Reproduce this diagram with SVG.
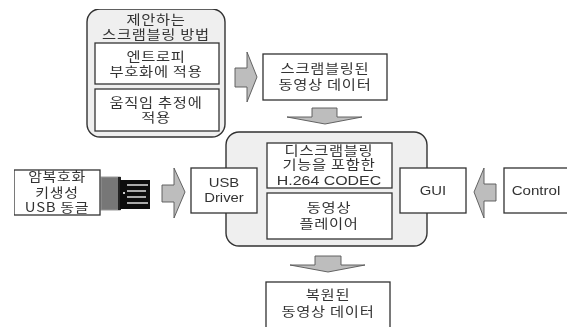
<svg xmlns="http://www.w3.org/2000/svg" width="567" height="327" viewBox="0 0 567 327">
<style>
.outer{fill:#efefef;stroke:#333;stroke-width:1.4}
.box{fill:#fff;stroke:#333;stroke-width:1.3}
.arrow{fill:#bdbdbd;stroke:#555;stroke-width:.9}
text{font-family:"Noto Sans CJK KR","Liberation Sans",sans-serif;font-size:13px;fill:#333;text-anchor:middle;letter-spacing:.6px}
.lat{font-family:"Liberation Sans",sans-serif;font-size:13.5px;letter-spacing:0}
</style>
<defs><filter id="soft" x="0" y="0" width="1" height="1"><feGaussianBlur stdDeviation="0.35"/></filter></defs>
<rect width="567" height="327" fill="#fff"/>
<g filter="url(#soft)">
<g id="proposed-method">
<rect class="outer" x="87" y="9" width="138" height="128" rx="13"/>
<text transform="translate(156 0) scale(1.18 1)"><tspan x="0" y="24">제안하는</tspan><tspan x="0" y="39">스크램블링 방법</tspan></text>
</g>
<g id="entropy"><rect class="box" x="95" y="43" width="124" height="41"/>
<text transform="translate(156 0) scale(1.18 1)"><tspan x="0" y="61">엔트로피</tspan><tspan x="0" y="76">부호화에 적용</tspan></text></g>
<g id="motion"><rect class="box" x="95" y="89" width="124" height="42"/>
<text transform="translate(156 0) scale(1.18 1)"><tspan x="0" y="107">움직임 추정에</tspan><tspan x="0" y="122">적용</tspan></text></g>
<g id="scrambled-video"><rect class="box" x="263" y="54" width="124" height="46"/>
<text transform="translate(325 0) scale(1.18 1)"><tspan x="0" y="73">스크램블링된</tspan><tspan x="0" y="89">동영상 데이터</tspan></text></g>
<g id="player-system"><rect class="outer" x="226" y="132" width="201" height="114" rx="13"/></g>
<g id="codec"><rect class="box" x="267" y="143" width="125" height="45"/>
<text transform="translate(329 0) scale(1.18 1)"><tspan x="0" y="155">디스크램블링</tspan><tspan x="0" y="169">기능을 포함한</tspan><tspan x="0" y="185" class="lat">H.264 CODEC</tspan></text></g>
<g id="player"><rect class="box" x="267" y="193" width="125" height="46"/>
<text transform="translate(329 0) scale(1.18 1)"><tspan x="0" y="212">동영상</tspan><tspan x="0" y="228">플레이어</tspan></text></g>
<g id="usb-driver"><rect class="box" x="191" y="168" width="66" height="45"/>
<text class="lat" transform="translate(224 0) scale(1.1 1)"><tspan x="0" y="187">USB</tspan><tspan x="0" y="202">Driver</tspan></text></g>
<g id="gui"><rect class="box" x="400" y="168" width="66" height="45"/>
<text x="0" y="195" class="lat" transform="translate(433 0) scale(1.1 1)">GUI</text></g>
<g id="control"><rect class="box" x="504" y="168" width="66" height="45"/>
<text x="0" y="195" class="lat" transform="translate(536 0) scale(1.12 1)">Control</text></g>
<g id="usb-dongle">
<rect x="101" y="177" width="19" height="33" fill="#777" stroke="#999" stroke-width="1"/>
<rect x="118" y="177" width="3" height="33" fill="#222"/>
<path d="M120 180H150V209H120Z" fill="#111"/>
<path d="M127 185H148M127 191H146M127 197H146M127 203H148" stroke="#aaa" stroke-width="2" fill="none"/>
<rect x="123" y="192" width="2" height="2" fill="#ccc"/>
<rect class="box" x="14" y="170" width="86" height="45"/>
<text transform="translate(57 0) scale(1.15 1)"><tspan x="0" y="181">암복호화</tspan><tspan x="0" y="197">키생성</tspan><tspan x="0" y="212">USB 동글</tspan></text>
</g>
<g id="restored-video"><rect class="box" x="266" y="282" width="124" height="46"/>
<text transform="translate(328 0) scale(1.18 1)"><tspan x="0" y="299">복원된</tspan><tspan x="0" y="316">동영상 데이터</tspan></text></g>
<g id="connectors">
<path class="arrow" d="M235 68H247V52L257 77L247 102V87H235Z"/>
<path class="arrow" d="M312 108H337V117H362L325 124L287 117H312Z"/>
<path class="arrow" d="M162 185H174V168L185 192L174 218V202H162Z"/>
<path class="arrow" d="M496 184H484V168L474 192L484 218V201H496Z"/>
<path class="arrow" d="M315 256H341V265H365L328 272L290 265H315Z"/>
</g>
</g>
</svg>
